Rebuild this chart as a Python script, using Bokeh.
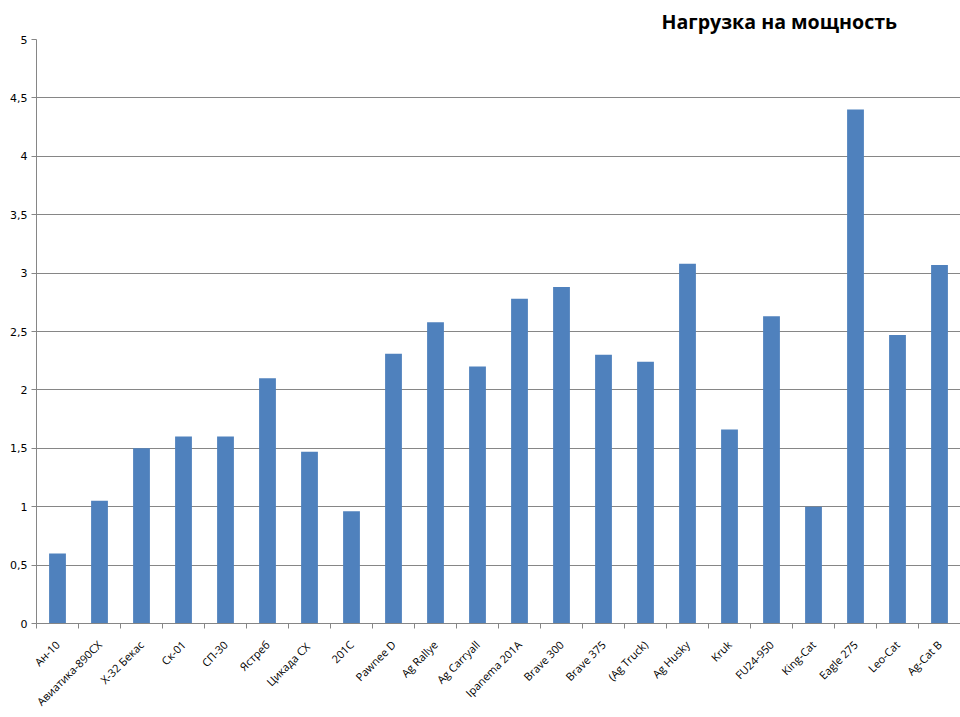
import math
from bokeh.plotting import figure
from bokeh.models import (ColumnDataSource, Range1d, LinearAxis,
                          FixedTicker, CustomJSTickFormatter, Title)
from bokeh.embed import file_html
from bokeh.resources import INLINE

aircraft = ["Ан-10", "Авиатика-890СХ", "X-32 Бекас", "Ск-01", "СП-30", "Ястреб", "Цикада  СХ",
            "201C", "Pawnee D", "Ag Rallye", "Ag Carryall", "Ipanema 201A", "Brave 300",
            "Brave 375", "(Ag Truck)", "Ag Husky", "Kruk", "FU24-950", "King-Cat", "Eagle 275",
            "Leo-Cat", "Ag-Cat B"]
power_load = [0.6, 1.05, 1.5, 1.6, 1.6, 2.1, 1.47, 0.96, 2.31, 2.58, 2.2, 2.78, 2.88,
              2.3, 2.24, 3.08, 1.66, 2.63, 1.0, 4.4, 2.47, 3.07]
y_ticks = [0, 0.5, 1, 1.5, 2, 2.5, 3, 3.5, 4, 4.5, 5]
title_text = "Нагрузка на мощность"

n = len(aircraft)
centers = [i + 0.5 for i in range(n)]
boundaries = list(range(n + 1))
src = ColumnDataSource(dict(x=centers, name=aircraft, val=power_load))

p = figure(width=960, height=717, x_range=Range1d(0, n),
           y_range=Range1d(0, 5), output_backend="svg", toolbar_location=None,
           x_axis_location=None, min_border_left=36, min_border_right=0,
           min_border_top=37, min_border_bottom=94)
p.outline_line_color = None
p.background_fill_color = "white"
p.border_fill_color = "white"

p.vbar(x="x", top="val", width=0.4, source=src, fill_color="#4F81BD", line_color=None)

# y axis
ya = p.yaxis[0]
ya.ticker = FixedTicker(ticks=y_ticks, minor_ticks=[])
ya.formatter = CustomJSTickFormatter(code="return tick.toString().replace('.', ',');")
ya.axis_line_color = "#868686"
ya.major_tick_line_color = "#868686"
ya.major_tick_out = 5
ya.major_tick_in = 0
ya.minor_tick_line_color = None
ya.major_label_text_font = "DejaVu Sans"
ya.major_label_text_font_size = "11px"
ya.major_label_text_color = "#000000"
ya.major_label_standoff = 4

p.ygrid.ticker = FixedTicker(ticks=y_ticks)
p.ygrid.grid_line_color = "#868686"
p.xgrid.grid_line_color = None

# x axis: labels at category centres, small ticks at category boundaries
xa = LinearAxis(ticker=FixedTicker(ticks=centers, minor_ticks=boundaries),
                axis_line_color="#868686",
                major_tick_line_color=None, major_tick_out=0, major_tick_in=0,
                minor_tick_line_color="#868686", minor_tick_out=5, minor_tick_in=0,
                major_label_orientation=math.pi / 4,
                major_label_text_font="Open Sans",
                major_label_text_font_size="11px",
                major_label_text_color="#000000",
                major_label_standoff=14)
xa.major_label_overrides = {c: name for c, name in zip(centers, aircraft)}
p.add_layout(xa, "below")

p.add_layout(Title(text=title_text, text_font="Open Sans", text_font_size="19.6px",
                   text_font_style="bold", text_color="#000000", align="left", offset=625),
             "above")

open("out.html", "w").write(file_html(p, INLINE))
